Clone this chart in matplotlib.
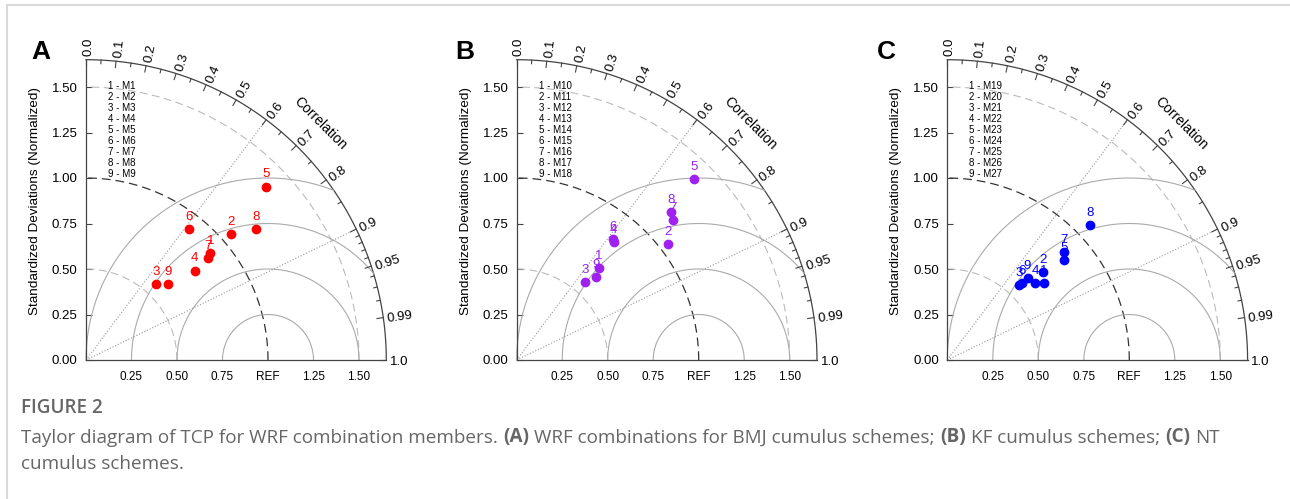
import numpy as np
import matplotlib
matplotlib.use("Agg")
import matplotlib.pyplot as plt

plt.rcParams['font.family'] = ['Liberation Sans', 'DejaVu Sans']

# normalized standard deviation and correlation of each member
std_a = [0.901, 1.056, 0.569, 0.773, 1.374, 0.917, 0.873, 1.179, 0.616]
corr_a = [0.758, 0.757, 0.678, 0.772, 0.721, 0.619, 0.768, 0.792, 0.734]
std_b = [0.676, 1.045, 0.570, 0.838, 1.393, 0.851, 1.154, 1.175, 0.629]
corr_b = [0.668, 0.794, 0.661, 0.637, 0.700, 0.623, 0.745, 0.723, 0.691]
std_c = [0.677, 0.712, 0.571, 0.641, 0.846, 0.589, 0.875, 1.080, 0.629]
corr_c = [0.781, 0.737, 0.692, 0.751, 0.759, 0.699, 0.734, 0.727, 0.701]

members_a = ["M1", "M2", "M3", "M4", "M5", "M6", "M7", "M8", "M9"]
members_b = ["M10", "M11", "M12", "M13", "M14", "M15", "M16", "M17", "M18"]
members_c = ["M19", "M20", "M21", "M22", "M23", "M24", "M25", "M26", "M27"]

std_ticks = [0.0, 0.25, 0.5, 0.75, 1.0, 1.25, 1.5]
x_ticks = [0.25, 0.5, 0.75, 1.0, 1.25, 1.5]
x_ticklabels = ["0.25", "0.50", "0.75", "REF", "1.25", "1.50"]
corr_major = [0.0, 0.1, 0.2, 0.3, 0.4, 0.5, 0.6, 0.7, 0.8, 0.9, 0.95, 0.99, 1.0]
corr_major_lbl = ["0.0", "0.1", "0.2", "0.3", "0.4", "0.5", "0.6", "0.7", "0.8", "0.9", "0.95", "0.99", "1.0"]
corr_minor = [0.05, 0.15, 0.25, 0.35, 0.45, 0.55, 0.65, 0.75, 0.85,
              0.91, 0.92, 0.93, 0.94, 0.96, 0.97, 0.98]
std_arcs = [0.5, 1.5]
rms_arcs = [0.25, 0.5, 0.75, 1.0]
corr_lines = [0.6, 0.9]

W, H = 1290, 499
R = 1.65
SCALE = 182.0  # pixels per unit
fig = plt.figure(figsize=(W / 100, H / 100), dpi=100)

bg = fig.add_axes([0, 0, 1, 1], zorder=-1)
bg.set_xlim(0, W)
bg.set_ylim(H, 0)
bg.axis('off')
bg.plot([7, W], [5, 5], color='#d9d9d9', lw=1.5)
bg.plot([7, 7], [5, H], color='#d9d9d9', lw=1.5)


def taylor(ox, std, corr, color, members, letter, lx):
    ax = fig.add_axes([ox / W, (H - 360) / H, R * SCALE / W, R * SCALE / H])
    ax.patch.set_visible(False)
    ax.set_xlim(0, R)
    ax.set_ylim(0, R)
    for s in ['top', 'right']:
        ax.spines[s].set_visible(False)
    for s in ['left', 'bottom']:
        ax.spines[s].set_color('#444')
        ax.spines[s].set_linewidth(0.9)
    ax.set_yticks(std_ticks)
    ax.set_yticklabels(["%.2f" % v for v in std_ticks])
    ax.tick_params(axis='y', direction='in', length=4.3, width=0.8, color='#444',
                   pad=6, labelsize=9.5)
    ax.set_xticks(x_ticks)
    ax.set_xticklabels(x_ticklabels)
    ax.tick_params(axis='x', length=0, pad=8, labelsize=8.5)
    ax.set_ylabel("Standardized Deviations (Normalized)", fontsize=9.7)
    ax.yaxis.set_label_coords(-0.15, 0.53)

    t = np.linspace(0, np.pi / 2, 200)
    ax.plot(R * np.cos(t), R * np.sin(t), color='#444', lw=0.9, clip_on=False)
    for s in std_arcs:
        ax.plot(s * np.cos(t), s * np.sin(t), color='#bbbbbb', lw=0.8, ls=(0, (7, 4)))
    ax.plot(np.cos(t), np.sin(t), color='#333333', lw=0.9, ls=(0, (7, 4)))
    for r in rms_arcs:
        cmin = (R ** 2 - 1 - r ** 2) / (2 * r)
        p0 = np.arccos(min(cmin, 1.0)) if cmin < 1 else 0.0
        p = np.linspace(p0, np.pi, 200)
        ax.plot(1 + r * np.cos(p), r * np.sin(p), color='#aaaaaa', lw=0.8, clip_on=False)
    for c in corr_lines:
        a = np.arccos(c)
        ax.plot([0, R * np.cos(a)], [0, R * np.sin(a)], color='#999999', lw=0.8, ls=':')

    for c, lbl in zip(corr_major, corr_major_lbl):
        a = np.arccos(c)
        ax.plot([R * np.cos(a), (R - 0.035) * np.cos(a)], [R * np.sin(a), (R - 0.035) * np.sin(a)],
                color='#444', lw=0.8, clip_on=False)
        px = (R + 0.02) * np.cos(a) + 0.012 * np.sin(a)
        py = (R + 0.02) * np.sin(a) - 0.012 * np.cos(a)
        ax.text(px, py, lbl, rotation=np.degrees(a), rotation_mode='anchor',
                ha='left', va='center', fontsize=9.5)
    for c in corr_minor:
        a = np.arccos(c)
        ax.plot([R * np.cos(a), (R - 0.02) * np.cos(a)], [R * np.sin(a), (R - 0.02) * np.sin(a)],
                color='#444', lw=0.8, clip_on=False)
    ax.text(1.286, 1.302, "Correlation", rotation=-45, ha='center', va='center', fontsize=10)

    for i, m in enumerate(members):
        ax.text(0.12, 1.507 - i * 0.0609, "%d - %s" % (i + 1, m), fontsize=7,
                ha='left', va='center')

    std = np.array(std)
    corr = np.array(corr)
    xs = std * corr
    ys = std * np.sqrt(1 - corr ** 2)
    ax.plot(xs, ys, 'o', ms=6, color=color, clip_on=False, zorder=5)
    for i in range(len(xs)):
        ax.annotate(str(i + 1), (xs[i], ys[i]), xytext=(0, 4.5), textcoords='offset points',
                    ha='center', va='bottom', color=color, fontsize=9.5, zorder=6)

    bg.text(lx, 52, letter, fontsize=19, fontweight='bold', ha='left', va='center')


taylor(86, std_a, corr_a, '#ff0000', members_a, "A", 31)
taylor(516.7, std_b, corr_b, '#a020f0', members_b, "B", 455)
taylor(947.3, std_c, corr_c, '#0000ff', members_c, "C", 877)

cap = dict(fontsize=13.6, color='#666666', family=['Open Sans', 'DejaVu Sans'])
bg.text(21, 408, "FIGURE 2", fontweight='semibold', va='center', ha='left', **cap)
pieces = [("Taylor diagram of TCP for WRF combination members.", 'normal'),
          ("(A)", 'bold'),
          ("WRF combinations for BMJ cumulus schemes;", 'normal'),
          ("(B)", 'bold'),
          ("KF cumulus schemes;", 'normal'),
          ("(C)", 'bold'),
          ("NT", 'normal')]
prev = bg.text(21, 443, pieces[0][0], va='baseline', ha='left', **cap)
for txt, wgt in pieces[1:]:
    prev = bg.annotate(txt, xy=(1, 0), xycoords=prev, xytext=(3.7, 0), textcoords='offset points',
                       va='bottom', ha='left', fontweight=wgt, **cap)
bg.text(21, 469, "cumulus schemes.", va='baseline', ha='left', **cap)

fig.savefig("out.png", dpi=100)
